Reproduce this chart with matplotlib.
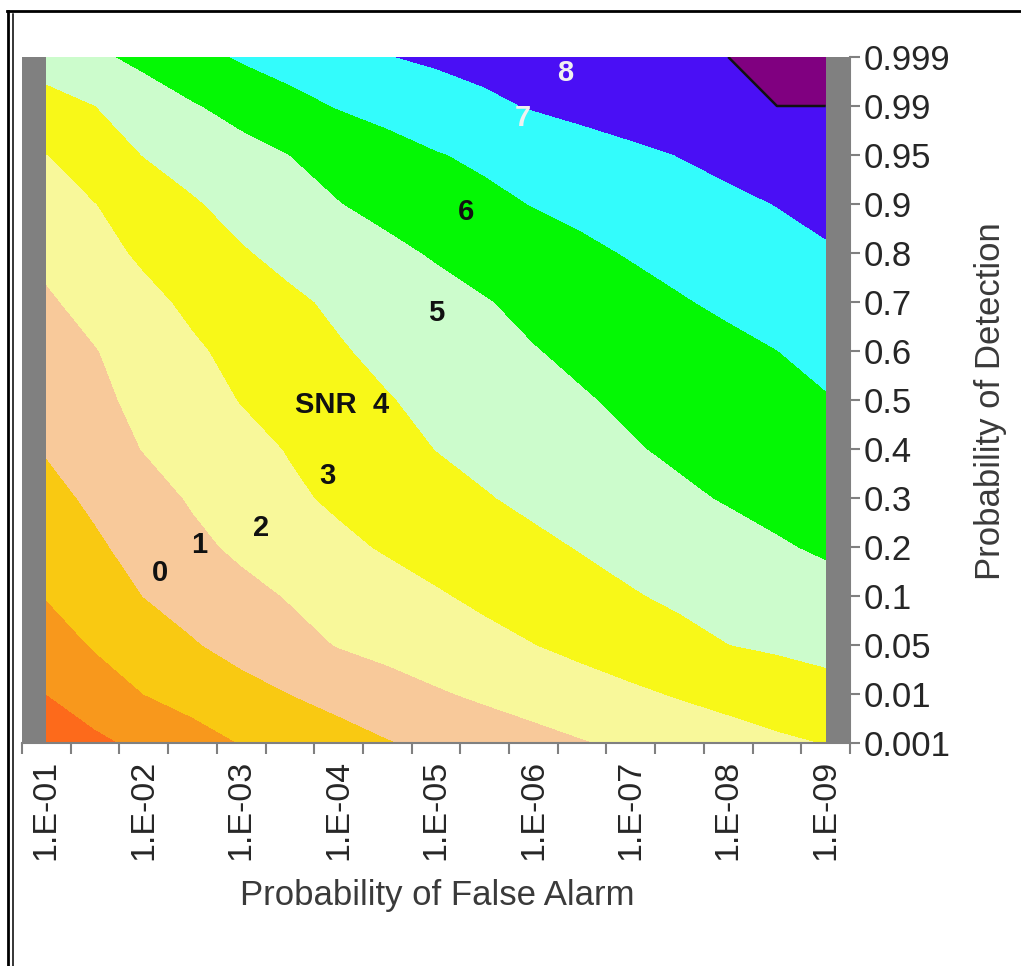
import numpy as np
import matplotlib
matplotlib.use("Agg")
import matplotlib.pyplot as plt
from matplotlib.lines import Line2D

# ---------------- data ----------------
pfa_labels = ["1.E-01", "1.E-02", "1.E-03", "1.E-04", "1.E-05",
              "1.E-06", "1.E-07", "1.E-08", "1.E-09"]
pd_labels = ["0.001", "0.01", "0.05", "0.1", "0.2", "0.3", "0.4", "0.5",
             "0.6", "0.7", "0.8", "0.9", "0.95", "0.99", "0.999"]
n_pfa_steps = 17  # half-decade steps from 1E-01 to 1E-09

# band value (SNR band index) at every grid node, one row per Pd value
snr_pd_0001 = [0.40, 0.80, 1.21, 1.62, 2.03, 2.34, 2.63, 2.94, 3.20, 3.45, 3.70, 3.94, 4.17, 4.40, 4.62, 4.84, 5.02]
snr_pd_001 = [1.00, 1.51, 2.00, 2.34, 2.67, 3.00, 3.30, 3.60, 3.90, 4.15, 4.38, 4.61, 4.84, 5.07, 5.28, 5.49, 5.70]
snr_pd_005 = [1.53, 2.08, 2.50, 2.92, 3.31, 3.69, 4.04, 4.28, 4.51, 4.74, 4.98, 5.23, 5.48, 5.74, 5.99, 6.12, 6.25]
snr_pd_01 = [2.04, 2.53, 3.01, 3.37, 3.72, 4.06, 4.34, 4.62, 4.91, 5.17, 5.42, 5.68, 5.93, 6.14, 6.33, 6.52, 6.71]
snr_pd_02 = [2.39, 2.86, 3.32, 3.78, 4.17, 4.49, 4.80, 5.09, 5.33, 5.57, 5.81, 6.05, 6.27, 6.48, 6.70, 6.92, 7.10]
snr_pd_03 = [2.73, 3.16, 3.63, 4.09, 4.47, 4.84, 5.15, 5.41, 5.68, 5.94, 6.18, 6.40, 6.63, 6.86, 7.06, 7.22, 7.38]
snr_pd_04 = [3.06, 3.55, 4.03, 4.37, 4.71, 5.05, 5.37, 5.69, 6.01, 6.24, 6.47, 6.70, 6.93, 7.13, 7.31, 7.48, 7.66]
snr_pd_05 = [3.33, 3.79, 4.23, 4.63, 5.03, 5.34, 5.64, 5.95, 6.20, 6.45, 6.69, 6.93, 7.14, 7.34, 7.54, 7.74, 7.94]
snr_pd_06 = [3.61, 3.96, 4.41, 4.87, 5.24, 5.58, 5.92, 6.19, 6.45, 6.71, 6.96, 7.17, 7.38, 7.58, 7.78, 7.99, 8.25]
snr_pd_07 = [3.88, 4.30, 4.76, 5.17, 5.51, 5.85, 6.14, 6.41, 6.68, 6.95, 7.20, 7.44, 7.68, 7.93, 8.15, 8.37, 8.58]
snr_pd_08 = [4.21, 4.69, 5.14, 5.53, 5.92, 6.23, 6.51, 6.80, 7.08, 7.32, 7.57, 7.82, 8.06, 8.27, 8.48, 8.69, 8.90]
snr_pd_09 = [4.60, 4.98, 5.44, 5.91, 6.28, 6.63, 6.97, 7.24, 7.51, 7.77, 8.03, 8.23, 8.43, 8.62, 8.82, 9.02, 9.25]
snr_pd_095 = [4.98, 5.52, 6.02, 6.35, 6.68, 7.00, 7.31, 7.63, 7.94, 8.17, 8.39, 8.60, 8.81, 9.02, 9.23, 9.43, 9.63]
snr_pd_099 = [5.69, 5.99, 6.45, 6.92, 7.31, 7.70, 8.05, 8.31, 8.57, 8.83, 9.06, 9.25, 9.44, 9.62, 9.81, 10.00, 10.00]
snr_pd_0999 = [6.38, 6.80, 7.25, 7.69, 8.09, 8.39, 8.67, 8.97, 9.13, 9.27, 9.42, 9.56, 9.71, 9.85, 10.00, 10.50, 10.50]

band_levels = [0, 1, 2, 3, 4, 5, 6, 7, 8, 9, 10, 11]
band_colors = ["#FD6A1B", "#F8981C", "#F9C912", "#F8C99A", "#F8F89A",
               "#F8F818", "#CCFCCC", "#04F804", "#33FCFC", "#4A0FF5", "#800080"]

# contour annotations: text, x (category index), y (row index), colour
contour_labels = [("0", 2.33, 3.47, "#111111"),
                  ("1", 3.13, 4.04, "#111111"),
                  ("2", 4.40, 4.39, "#111111"),
                  ("3", 5.77, 5.45, "#111111"),
                  ("SNR  4", 6.08, 6.90, "#111111"),
                  ("5", 8.00, 8.78, "#111111"),
                  ("6", 8.61, 10.84, "#111111"),
                  ("7", 9.78, 12.76, "#F0F0F0"),
                  ("8", 10.66, 13.67, "#F0F0F0")]

# ---------------- figure ----------------
plt.rcParams["font.family"] = ["Liberation Sans", "DejaVu Sans"]
W, H = 1021, 966
fig = plt.figure(figsize=(W / 100, H / 100), dpi=100)

ax_l, ax_r, ax_t, ax_b = 22, 850, 57, 743
ax = fig.add_axes([ax_l / W, 1 - ax_b / H, (ax_r - ax_l) / W, (ax_b - ax_t) / H])
ax.set_facecolor("#808080")

Z = np.array([snr_pd_0001, snr_pd_001, snr_pd_005, snr_pd_01, snr_pd_02,
              snr_pd_03, snr_pd_04, snr_pd_05, snr_pd_06, snr_pd_07,
              snr_pd_08, snr_pd_09, snr_pd_095, snr_pd_099, snr_pd_0999])
xs = np.arange(n_pfa_steps)
ys = np.arange(len(pd_labels))
ax.contourf(xs, ys, Z, levels=band_levels, colors=band_colors, antialiased=False)
ax.contour(xs, ys, Z, levels=[10], colors="#111111", linewidths=1.8)

ax.set_xlim(-0.5, n_pfa_steps - 0.5)
ax.set_ylim(0, len(pd_labels) - 1)

# x axis: tick marks between categories, labels on every other category
ax.set_xticks(np.arange(-0.5, n_pfa_steps, 1.0))
ax.set_xticklabels([])
ax.set_xticks(np.arange(0, n_pfa_steps, 2), minor=True)
ax.set_xticklabels(pfa_labels, minor=True, rotation=90, fontsize=24.5, color="#262626")
ax.tick_params(axis="x", which="major", length=8, width=1.5, color="#808080", direction="out")
ax.tick_params(axis="x", which="minor", length=0, pad=12)

# y axis on the right
ax.yaxis.tick_right()
ax.set_yticks(ys)
ax.set_yticklabels(pd_labels, fontsize=25, color="#262626")
ax.tick_params(axis="y", length=7, width=1.5, color="#808080", direction="out", pad=3)

for s in ["left", "top"]:
    ax.spines[s].set_visible(False)
for s in ["bottom", "right"]:
    ax.spines[s].set_color("#808080")
    ax.spines[s].set_linewidth(1.5)

for txt, x, y, c in contour_labels:
    ax.text(x, y, txt, ha="center", va="center", fontsize=21, fontweight="bold", color=c)

fig.text(437 / W, 1 - 895 / H, "Probability of False Alarm", ha="center", va="center",
         fontsize=25, color="#3a3a3a")
fig.text(990 / W, 1 - 401 / H, "Probability of Detection", ha="center", va="center",
         rotation=90, fontsize=25, color="#3a3a3a")

# outer frame (double line on the left, line on top)
def fline(x0, y0, x1, y1, lw):
    fig.add_artist(Line2D([x0 / W, x1 / W], [1 - y0 / H, 1 - y1 / H],
                          transform=fig.transFigure, color="black", lw=lw))

fline(8, 10.5, 8, H + 5, 2.0)
fline(12.5, 14, 12.5, H + 5, 1.1)
fline(7, 10.5, W + 5, 10.5, 2.0)

fig.savefig("out.png", dpi=100)
